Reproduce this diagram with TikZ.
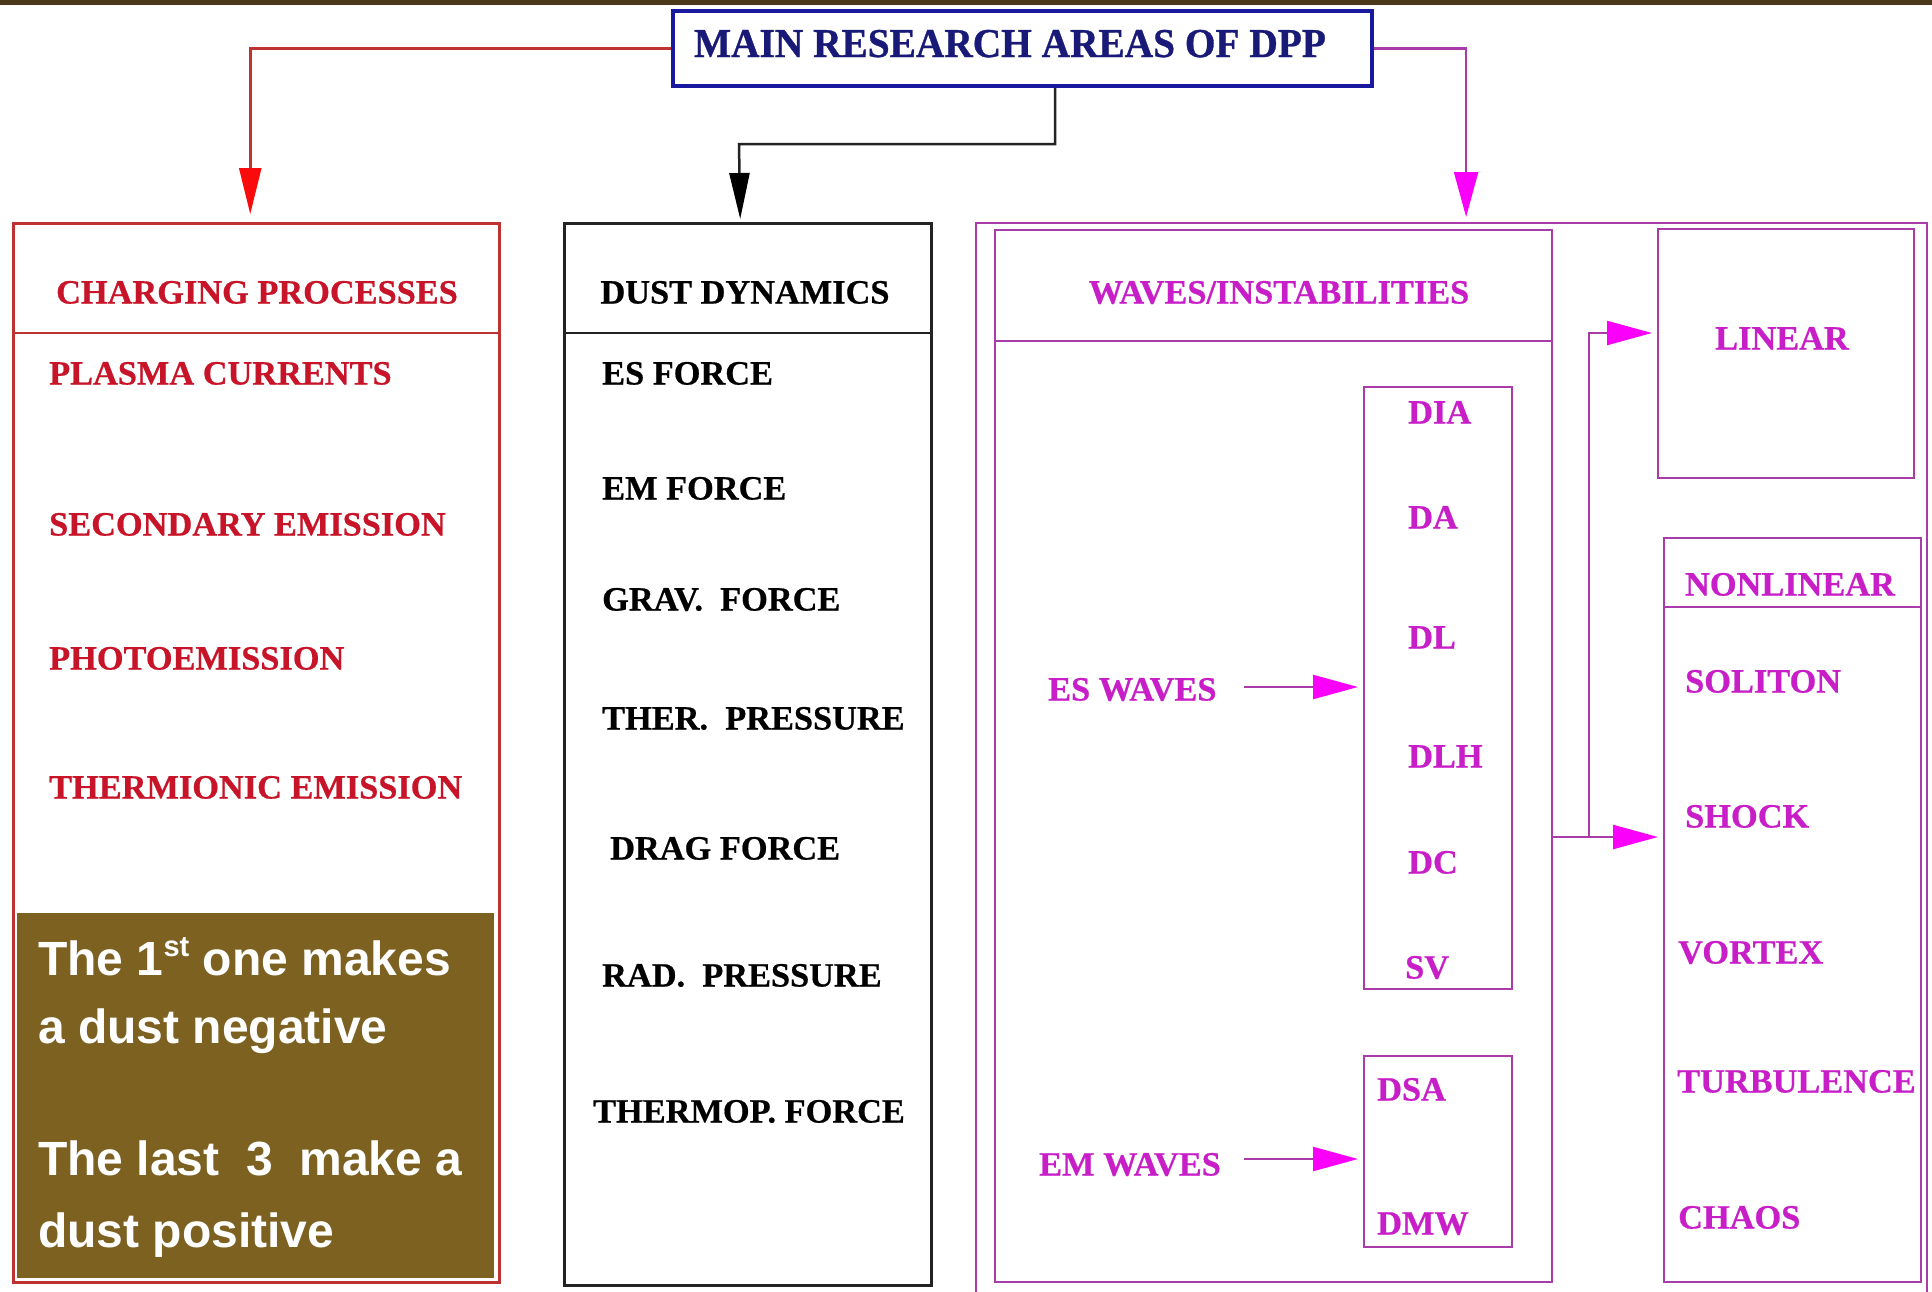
\documentclass[tikz,border=0pt]{standalone}
\usepackage{fontspec}
\setmainfont{Liberation Serif}
\newfontfamily\labfont[FakeStretch=1.01,FakeBold=0.6]{Liberation Serif}
\newfontfamily\ttlfont[FakeStretch=0.96,FakeBold=0.8]{Liberation Serif}
\newfontfamily\notefont{Liberation Sans}
\usetikzlibrary{arrows.meta}
\frenchspacing
\definecolor{topbar}{RGB}{75,55,25}
\definecolor{brownfill}{RGB}{124,97,33}
\definecolor{redtxt}{RGB}{200,20,40}
\definecolor{redln}{RGB}{190,50,50}
\definecolor{redarr}{RGB}{250,10,10}
\definecolor{magtxt}{RGB}{200,30,200}
\definecolor{magln}{RGB}{170,60,170}
\definecolor{magarr}{RGB}{250,0,250}
\definecolor{bluetxt}{RGB}{25,25,120}
\definecolor{blueln}{RGB}{25,25,160}
\definecolor{blkln}{RGB}{35,35,35}
\tikzset{
  boxbase/.style={rectangle, inner sep=0pt, anchor=north west},
  boxred/.style={boxbase, draw=redln, line width=2.5pt},
  boxblk/.style={boxbase, draw=blkln, line width=2.5pt},
  boxmag/.style={boxbase, draw=magln, line width=2.2pt},
  boxblue/.style={boxbase, draw=blueln, line width=4pt},
  lab/.style={inner sep=0pt, font=\labfont\bfseries\fontsize{34}{38}\selectfont},
  labred/.style={lab, text=redtxt},
  labblk/.style={lab, text=black},
  labmag/.style={lab, text=magtxt},
  notetxt/.style={inner sep=0pt, anchor=base west, text=white,
    font=\notefont\bfseries\fontsize{48}{56}\selectfont},
  conred/.style={draw=redln, line width=2.5pt,
    -{Triangle[length=46pt,width=22pt,color=redarr]}, shorten >=8pt},
  conblk/.style={draw=blkln, line width=2.5pt,
    -{Triangle[length=46pt,width=20pt,color=black]}, shorten >=3pt},
  conmag/.style={draw=magln, line width=2.2pt,
    -{Triangle[length=45pt,width=24pt,color=magarr]}, shorten >=5pt},
  linemag/.style={draw=magln, line width=2.2pt},
}
\begin{document}
\begin{tikzpicture}[x=1pt,y=-1pt]
\useasboundingbox (0,0) rectangle (1932,1291);
\clip (0,0) rectangle (1932,1291);
\fill[white] (0,0) rectangle (1932,1291);
\fill[topbar] (0,0) rectangle (1932,5);

% main box
\node[boxblue, minimum width=699pt, minimum height=75pt] (main) at (671,9) {};
\node[inner sep=0pt, anchor=base, text=bluetxt,
  font=\ttlfont\bfseries\fontsize{41}{44}\selectfont] (title) at (1010,57) {MAIN RESEARCH AREAS OF DPP};

% boxes
\node[boxred, minimum width=486pt, minimum height=1059pt] (cp) at (12,222) {};
\node[boxblk, minimum width=367pt, minimum height=1062pt] (dd) at (563,222) {};
\node[boxmag, minimum width=951pt, minimum height=1075pt] (wo) at (975,222) {};
\node[boxmag, minimum width=557pt, minimum height=1052pt] (wv) at (994,229) {};
\node[boxmag, minimum width=148pt, minimum height=602pt] (es) at (1363,386) {};
\node[boxmag, minimum width=148pt, minimum height=191pt] (em) at (1363,1055) {};
\node[boxmag, minimum width=256pt, minimum height=249pt] (lin) at (1657,228) {};
\node[boxmag, minimum width=257pt, minimum height=744pt] (nl) at (1663,537) {};

% header dividers
\draw[draw=redln, line width=2.5pt] (cp.west |- 0,333) -- (cp.east |- 0,333);
\draw[draw=blkln, line width=2.5pt] (dd.west |- 0,333) -- (dd.east |- 0,333);
\draw[linemag] (wv.west |- 0,341) -- (wv.east |- 0,341);
\draw[linemag] (nl.west |- 0,607) -- (nl.east |- 0,607);

% brown note
\node[boxbase, fill=brownfill, minimum width=477pt, minimum height=365pt] (note) at (17,913) {};
\node[notetxt] (n1) at (38,975) {The 1\raisebox{19pt}{\fontsize{29}{30}\selectfont st} one makes};
\node[notetxt] (n2) at (38,1043) {a dust negative};
\node[notetxt] (n3) at (38,1175) {The last~ 3~ make a};
\node[notetxt] (n4) at (38,1247) {dust positive};

% connectors from main box
\draw[conred] (main.west) -| ([xshift=-6pt]cp.north);
\coordinate (bend) at (739,144);
\draw[conblk] ([xshift=32.5pt]main.south) |- (bend) -- ([xshift=-7.5pt]dd.north);
\draw[conmag] (main.east) -| ([xshift=14.5pt]wo.north);

% charging processes
\node[labred, anchor=base] (cph) at (257,303.5) {CHARGING PROCESSES};
\node[labred, anchor=base west] (c1) at (49,384.5) {PLASMA CURRENTS};
\node[labred, anchor=base west] (c2) at (49,535.5) {SECONDARY EMISSION};
\node[labred, anchor=base west] (c3) at (49,669.5) {PHOTOEMISSION};
\node[labred, anchor=base west] (c4) at (49,798.5) {THERMIONIC EMISSION};

% dust dynamics
\node[labblk, anchor=base] (ddh) at (745,303.5) {DUST DYNAMICS};
\node[labblk, anchor=base west] (d1) at (602,384.5) {ES FORCE};
\node[labblk, anchor=base west] (d2) at (602,499.5) {EM FORCE};
\node[labblk, anchor=base west] (d3) at (602,610.5) {GRAV.~ FORCE};
\node[labblk, anchor=base west] (d4) at (602,729.5) {THER.~ PRESSURE};
\node[labblk, anchor=base west] (d5) at (610,859.5) {DRAG FORCE};
\node[labblk, anchor=base west] (d6) at (602,986.5) {RAD.~ PRESSURE};
\node[labblk, anchor=base west] (d7) at (593,1122.5) {THERMOP. FORCE};

% waves
\node[labmag, anchor=base] (wvh) at (1279,303.5) {WAVES/INSTABILITIES};
\node[labmag, anchor=base west] (esw) at (1048,700.5) {ES WAVES};
\node[labmag, anchor=base west] (emw) at (1039,1175.5) {EM WAVES};
\node[labmag, anchor=base west] (w1) at (1408,423.5) {DIA};
\node[labmag, anchor=base west] (w2) at (1408,528.5) {DA};
\node[labmag, anchor=base west] (w3) at (1408,648.5) {DL};
\node[labmag, anchor=base west] (w4) at (1408,767.5) {DLH};
\node[labmag, anchor=base west] (w5) at (1408,873.5) {DC};
\node[labmag, anchor=base west] (w6) at (1405,978.5) {SV};
\node[labmag, anchor=base west] (w7) at (1377,1100.5) {DSA};
\node[labmag, anchor=base west] (w8) at (1377,1234.5) {DMW};

\coordinate (esa) at (1244,687);
\draw[conmag] (esa) -- (es.west |- esa);
\coordinate (ema) at (1244,1159);
\draw[conmag] (ema) -- (em.west |- ema);

% linear / nonlinear
\node[labmag, anchor=base] (linh) at (1782,349.5) {LINEAR};
\node[labmag, anchor=base] (nlh) at (1790,595.5) {NONLINEAR};
\node[labmag, anchor=base west] (s1) at (1685,692.5) {SOLITON};
\node[labmag, anchor=base west] (s2) at (1685,827.5) {SHOCK};
\node[labmag, anchor=base west] (s3) at (1678,963.5) {VORTEX};
\node[labmag, anchor=base west] (s4) at (1677,1092.5) {TURBULENCE};
\node[labmag, anchor=base west] (s5) at (1678,1228.5) {CHAOS};

\coordinate (jn) at (1589,837);
\coordinate (jt) at (1589,333);
\draw[linemag] (wv.east |- jn) -- (jn);
\draw[conmag] (jn) -- (nl.west |- jn);
\draw[conmag] (jn) -- (jt) -- (lin.west |- jt);
\end{tikzpicture}
\end{document}
